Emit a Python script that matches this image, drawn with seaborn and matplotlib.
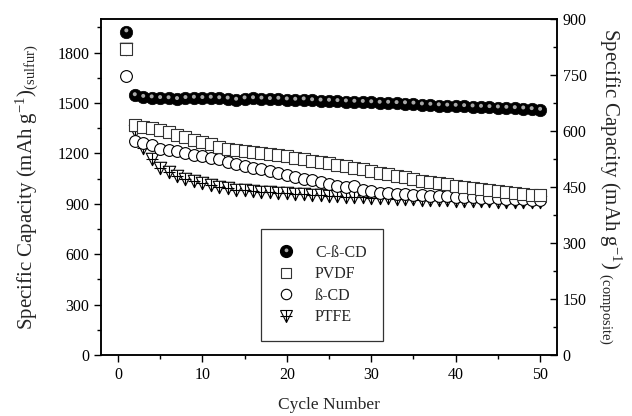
import numpy as np
import pandas as pd
import matplotlib
matplotlib.use("Agg")
import matplotlib.pyplot as plt
import seaborn as sns
from matplotlib.markers import MarkerStyle
from matplotlib.transforms import Affine2D
from matplotlib.lines import Line2D
from matplotlib.legend_handler import HandlerTuple

cycles = list(range(1, 51))
c_beta_cd = [1925, 1545, 1535, 1532, 1528, 1527, 1522, 1528, 1530, 1528,
             1530, 1527, 1525, 1518, 1526, 1527, 1525, 1522, 1524, 1520,
             1518, 1520, 1515, 1513, 1512, 1510, 1508, 1506, 1505, 1503,
             1500, 1500, 1498, 1497, 1495, 1490, 1488, 1485, 1483, 1482,
             1480, 1478, 1476, 1474, 1472, 1470, 1468, 1466, 1462, 1458]
pvdf = [1820, 1370, 1360, 1350, 1340, 1325, 1310, 1295, 1282, 1270,
        1255, 1240, 1228, 1220, 1212, 1208, 1205, 1198, 1192, 1185,
        1175, 1165, 1155, 1148, 1140, 1132, 1125, 1115, 1105, 1095,
        1085, 1075, 1065, 1058, 1048, 1038, 1030, 1022, 1015, 1008,
        1000, 995, 988, 982, 976, 972, 966, 960, 955, 950]
beta_cd = [1660, 1272, 1262, 1250, 1225, 1220, 1215, 1205, 1192, 1185,
           1175, 1168, 1150, 1138, 1125, 1112, 1105, 1097, 1085, 1072,
           1060, 1050, 1040, 1030, 1015, 1005, 1000, 1004, 985, 975,
           965, 962, 960, 958, 955, 950, 948, 945, 944, 942,
           940, 938, 936, 934, 932, 930, 928, 926, 924, 922]
ptfe = [1820, 1335, 1235, 1165, 1115, 1090, 1065, 1050, 1035, 1025,
        1010, 1002, 995, 985, 980, 975, 972, 970, 966, 962,
        960, 957, 954, 950, 948, 945, 943, 940, 938, 936,
        935, 932, 930, 928, 926, 924, 922, 921, 920, 918,
        917, 916, 915, 914, 913, 912, 911, 910, 909, 908]
labels = ["C-\u00df-CD", "PVDF", "\u00df-CD", "PTFE"]

sns.set_theme(style="ticks")
plt.rcParams["font.family"] = ["Liberation Serif", "DejaVu Serif"]
plt.rcParams["mathtext.default"] = "regular"

fig = plt.figure(figsize=(6.32, 4.16), dpi=100)
ax = fig.add_axes([101/632, 61/416, 456/632, 336/416])

df = pd.DataFrame({"cycle": cycles, "cbcd": c_beta_cd, "pvdf": pvdf,
                   "bcd": beta_cd, "ptfe": ptfe})

ms = 66
# PTFE: open down-triangle with plus
sns.scatterplot(data=df, x="cycle", y="ptfe", ax=ax, marker="v", s=ms + 14,
                facecolor="white", edgecolor="black", linewidth=0.8, zorder=3)
sns.scatterplot(data=df, x="cycle", y="ptfe", ax=ax, marker="+", s=ms,
                color="black", linewidth=0.8, zorder=3.1)
# beta-CD: open circle
sns.scatterplot(data=df, x="cycle", y="bcd", ax=ax, marker="o", s=ms + 6,
                facecolor="white", edgecolor="black", linewidth=0.8, zorder=3.2)
# PVDF: open square
sns.scatterplot(data=df, x="cycle", y="pvdf", ax=ax, marker="s", s=ms,
                facecolor="white", edgecolor="#333333", linewidth=0.8, zorder=3.3)
# C-beta-CD: shaded ball
sns.scatterplot(data=df, x="cycle", y="cbcd", ax=ax, marker="o", s=ms + 14,
                color="black", edgecolor="black", linewidth=0.5, zorder=4)
hl = MarkerStyle("o", transform=Affine2D().scale(0.32).translate(0.0, 0.1))
sns.scatterplot(data=df, x="cycle", y="cbcd", ax=ax, marker=hl, s=ms + 14,
                color="#a8a8a8", edgecolor="none", linewidth=0, zorder=4.1)

ax.set_xlim(-2, 52)
ax.set_ylim(0, 2000)
ax.set_xticks([0, 10, 20, 30, 40, 50])
ax.set_xticks([5, 15, 25, 35, 45], minor=True)
ax.set_yticks(list(range(0, 1801, 300)))
ax.set_yticks(list(range(150, 1951, 300)), minor=True)
ax.tick_params(axis="both", which="major", direction="out", length=5,
               width=1, labelsize=11.5, color="black", labelcolor="black")
ax.tick_params(axis="both", which="minor", direction="out", length=3,
               width=1, color="black")
for sp in ax.spines.values():
    sp.set_color("black")
    sp.set_linewidth(1.1)
ax.set_xlabel("Cycle Number", fontsize=12.5, labelpad=10)
ax.set_ylabel("Specific Capacity (mAh g$^{-1}$)$_{(sulfur)}$", fontsize=15,
              labelpad=12)

ax2 = ax.twinx()
ax2.set_ylim(0, 900)
ax2.set_yticks(list(range(0, 901, 150)))
ax2.set_yticks(list(range(75, 900, 150)), minor=True)
ax2.tick_params(axis="y", which="major", direction="in", length=5, width=1,
                labelsize=11.5, color="black", labelcolor="black", pad=4)
ax2.tick_params(axis="y", which="minor", direction="in", length=3, width=1,
                color="black")
for sp in ax2.spines.values():
    sp.set_color("black")
    sp.set_linewidth(1.1)
ax2.set_ylabel("Specific Capacity (mAh g$^{-1}$) $_{(composite)}$",
               fontsize=15, rotation=270, labelpad=26)

# legend
h_cb = (Line2D([], [], marker="o", ls="", mfc="black", mec="black", ms=8.5),
        Line2D([], [], marker=hl, ls="", mfc="#a8a8a8", mec="none", ms=8.5))
h_pv = Line2D([], [], marker="s", ls="", mfc="white", mec="#333333", ms=7, mew=0.8)
h_bc = Line2D([], [], marker="o", ls="", mfc="white", mec="black", ms=7.5, mew=0.8)
h_pt = (Line2D([], [], marker="v", ls="", mfc="white", mec="black", ms=8.5, mew=0.8),
        Line2D([], [], marker="+", ls="", color="black", ms=8, mew=0.8))
leg = ax.legend([h_cb, h_pv, h_bc, h_pt], labels,
                handler_map={tuple: HandlerTuple(ndivide=1, pad=0)},
                loc="center", bbox_to_anchor=(0.484, 0.208), fontsize=11.5,
                frameon=True, fancybox=False, edgecolor="black",
                borderpad=1.0, labelspacing=0.35, handletextpad=1.2,
                handlelength=1.2, borderaxespad=0)
leg.get_frame().set_linewidth(0.9)

fig.savefig("out.png", dpi=100)
